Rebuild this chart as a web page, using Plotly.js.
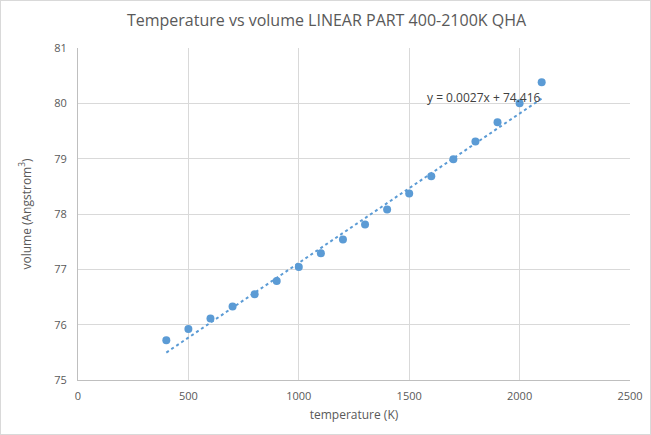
<!DOCTYPE html>
<html>
<head>
<meta charset="utf-8">
<script src="https://cdn.plot.ly/plotly-3.0.1.min.js"></script>
<style>
  html, body { margin: 0; padding: 0; background: #fff; }
  #chart { width: 651px; height: 435px; box-sizing: border-box; border: 1px solid #d9d9d9; }
</style>
</head>
<body>
<div id="chart"></div>
<script>
// temperature (K) and volume (Angstrom^3)
const temperature = [400, 500, 600, 700, 800, 900, 1000, 1100, 1200, 1300, 1400, 1500, 1600, 1700, 1800, 1900, 2000, 2100];
const volume = [75.72, 75.92, 76.11, 76.33, 76.55, 76.79, 77.04, 77.29, 77.54, 77.81, 78.08, 78.37, 78.68, 78.99, 79.31, 79.66, 80.0, 80.38];

// linear trendline as printed on the chart
const trendSlope = 0.0027;
const trendIntercept = 74.416;
const trendLabel = "y = 0.0027x + 74.416";

const farbe = "#5B9BD5";
const grau = "#595959";

const trendX = [temperature[0], temperature[temperature.length - 1]];
const trendY = trendX.map((x) => trendSlope * x + trendIntercept);

const daten = [
  {
    x: trendX,
    y: trendY,
    type: "scatter",
    mode: "lines",
    line: { color: farbe, width: 2, dash: "dot" },
    hoverinfo: "skip",
    showlegend: false,
  },
  {
    x: temperature,
    y: volume,
    type: "scatter",
    mode: "markers",
    marker: { color: farbe, size: 8 },
    showlegend: false,
  },
];

const achse = {
  showgrid: true,
  gridcolor: "#d9d9d9",
  gridwidth: 1,
  showline: true,
  linecolor: "#bfbfbf",
  linewidth: 1,
  zeroline: false,
  ticks: "",
  tickfont: { family: "Open Sans, sans-serif", size: 11, color: grau },
};

const layout = {
  width: 651,
  height: 435,
  margin: { t: 47, r: 22, b: 56, l: 77 },
  paper_bgcolor: "rgba(0,0,0,0)",
  plot_bgcolor: "#fff",
  font: { family: "Open Sans, sans-serif", color: grau },
  title: {
    text: "Temperature vs volume LINEAR PART 400-2100K QHA",
    font: { family: "Open Sans, sans-serif", size: 16, color: grau },
    x: 0.5,
    xanchor: "center",
    y: 0.955,
    yanchor: "middle",
  },
  xaxis: {
    ...achse,
    range: [0, 2500],
    dtick: 500,
    ticklabelstandoff: 6,
    title: { text: "temperature (K)", font: { size: 12, color: grau }, standoff: 8 },
  },
  yaxis: {
    ...achse,
    range: [75, 81],
    dtick: 1,
    ticklabelstandoff: 8,
    title: { text: "volume (Angstrom<sup>3</sup>)", font: { size: 12, color: grau }, standoff: 20 },
  },
  annotations: [
    {
      x: 1840,
      y: 80.11,
      xref: "x",
      yref: "y",
      text: trendLabel,
      showarrow: false,
      font: { family: "Open Sans, sans-serif", size: 12, color: "#404040" },
    },
  ],
};

Plotly.newPlot("chart", daten, layout, { displayModeBar: false, staticPlot: true });
</script>
</body>
</html>
